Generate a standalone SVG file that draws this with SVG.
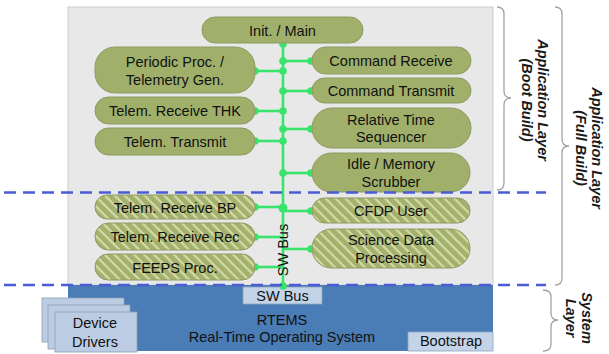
<svg xmlns="http://www.w3.org/2000/svg" width="609" height="354" viewBox="0 0 609 354">
  <defs>
    <pattern id="hatch" width="7" height="7" patternUnits="userSpaceOnUse" patternTransform="rotate(45)">
      <rect width="7" height="7" fill="#a2b16c"/>
      <rect width="7" height="2.2" fill="#d6d9a6"/>
    </pattern>
    <style>
      .txt { font-family: "Liberation Sans", Arial, sans-serif; font-size: 14.5px; fill: #111111; text-anchor: middle; }
      .lbl { font-family: "Liberation Sans", Arial, sans-serif; font-size: 14.5px; font-weight: bold; font-style: italic; fill: #1a1a1a; text-anchor: middle; }
      .node { fill: #a0b06a; stroke: #8d9a63; stroke-width: 1; }
      .hatched { fill: url(#hatch); stroke: #8d9a63; stroke-width: 1; }
      .bus { stroke: #3ae36c; stroke-width: 2.6; fill: none; }
      .dot { fill: #3ae36c; }
      .lightbox { fill: #c3d4e9; stroke: #8fa3bd; stroke-width: 0.8; }
      .card { fill: #bccde3; stroke: #8e9fb6; stroke-width: 0.8; }
      .brace { fill: none; stroke: #a3a3a3; stroke-width: 1.3; }
      .dash { stroke: #4a5bd6; stroke-width: 2.5; stroke-dasharray: 12 7; }
    </style>
  </defs>

  <rect width="609" height="354" fill="#ffffff"/>

  <!-- application layer area -->
  <rect id="app-area" x="68" y="7" width="425" height="278" fill="#e8e8e9" stroke="#cdcdcd" stroke-width="1"/>

  <!-- system layer area -->
  <g id="system-layer">
    <rect x="68" y="285" width="425" height="66" fill="#4a7cb5"/>
    <text class="txt" x="282" y="325" fill="#131c2a">RTEMS</text>
    <text class="txt" x="282" y="342" fill="#131c2a">Real-Time Operating System</text>
  </g>

  <g id="sw-bus-box">
    <rect class="lightbox" x="243" y="287" width="79" height="17"/>
    <text class="txt" x="282.5" y="301">SW Bus</text>
  </g>

  <g id="bootstrap">
    <rect class="lightbox" x="408" y="332" width="85" height="19"/>
    <text class="txt" x="451" y="346">Bootstrap</text>
  </g>

  <g id="device-drivers">
    <rect class="card" x="42" y="298" width="82" height="44"/>
    <rect class="card" x="48" y="305" width="82" height="44"/>
    <rect class="card" x="55" y="312" width="82" height="40"/>
    <text class="txt" x="95" y="328">Device</text>
    <text class="txt" x="95" y="347">Drivers</text>
  </g>

  <!-- software bus and its branches -->
  <g id="connectors">
    <line class="bus" x1="283" y1="43" x2="283" y2="287"/>
    <!-- left branches -->
    <line class="bus" x1="255" y1="71" x2="283" y2="71"/>
    <line class="bus" x1="255" y1="111" x2="283" y2="111"/>
    <line class="bus" x1="255" y1="141" x2="283" y2="141"/>
    <line class="bus" x1="255" y1="207" x2="283" y2="207"/>
    <line class="bus" x1="255" y1="237" x2="283" y2="237"/>
    <line class="bus" x1="255" y1="267" x2="283" y2="267"/>
    <!-- right branches -->
    <line class="bus" x1="283" y1="61" x2="311" y2="61"/>
    <line class="bus" x1="283" y1="91" x2="311" y2="91"/>
    <line class="bus" x1="283" y1="129" x2="311" y2="129"/>
    <line class="bus" x1="283" y1="173" x2="311" y2="173"/>
    <line class="bus" x1="283" y1="211" x2="311" y2="211"/>
    <line class="bus" x1="283" y1="249" x2="311" y2="249"/>
    <!-- junction dots -->
    <circle class="dot" cx="283" cy="44" r="3.8"/>
    <circle class="dot" cx="283" cy="61" r="3.8"/>
    <circle class="dot" cx="311" cy="61" r="3.8"/>
    <circle class="dot" cx="283" cy="71" r="3.8"/>
    <circle class="dot" cx="255" cy="71" r="3.8"/>
    <circle class="dot" cx="283" cy="91" r="3.8"/>
    <circle class="dot" cx="311" cy="91" r="3.8"/>
    <circle class="dot" cx="283" cy="111" r="3.8"/>
    <circle class="dot" cx="255" cy="111" r="3.8"/>
    <circle class="dot" cx="283" cy="129" r="3.8"/>
    <circle class="dot" cx="311" cy="129" r="3.8"/>
    <circle class="dot" cx="283" cy="141" r="3.8"/>
    <circle class="dot" cx="255" cy="141" r="3.8"/>
    <circle class="dot" cx="283" cy="173" r="3.8"/>
    <circle class="dot" cx="311" cy="173" r="3.8"/>
    <circle class="dot" cx="283" cy="208" r="4.5"/>
    <circle class="dot" cx="255" cy="207" r="3.8"/>
    <circle class="dot" cx="311" cy="211" r="3.8"/>
    <circle class="dot" cx="255" cy="237" r="3.8"/>
    <circle class="dot" cx="311" cy="249" r="3.8"/>
    <circle class="dot" cx="255" cy="267" r="3.8"/>
    <circle class="dot" cx="283" cy="286" r="3.8"/>
    <text class="txt" transform="translate(288 250) rotate(-90)" x="0" y="0" font-size="15">SW Bus</text>
  </g>

  <!-- application tasks -->
  <g id="init-main">
    <rect class="node" x="202" y="17" width="161" height="26" rx="13"/>
    <text class="txt" x="282.5" y="35.5">Init. / Main</text>
  </g>
  <g id="periodic-proc">
    <rect class="node" x="95" y="47" width="160" height="46" rx="20"/>
    <text class="txt" x="175" y="66.5">Periodic Proc. /</text>
    <text class="txt" x="175" y="84.5">Telemetry Gen.</text>
  </g>
  <g id="telem-receive-thk">
    <rect class="node" x="95" y="97" width="160" height="27" rx="13.5"/>
    <text class="txt" x="175" y="116">Telem. Receive THK</text>
  </g>
  <g id="telem-transmit">
    <rect class="node" x="95" y="128" width="160" height="27" rx="13.5"/>
    <text class="txt" x="175" y="147">Telem. Transmit</text>
  </g>
  <g id="telem-receive-bp">
    <rect class="hatched" x="95" y="195" width="160" height="24" rx="12"/>
    <text class="txt" x="175" y="212.5">Telem. Receive BP</text>
  </g>
  <g id="telem-receive-rec">
    <rect class="hatched" x="95" y="223" width="160" height="27" rx="13.5"/>
    <text class="txt" x="175" y="242">Telem. Receive Rec</text>
  </g>
  <g id="feeps-proc">
    <rect class="hatched" x="95" y="254" width="160" height="26" rx="13"/>
    <text class="txt" x="175" y="272.5">FEEPS Proc.</text>
  </g>

  <g id="command-receive">
    <rect class="node" x="312" y="47" width="159" height="27" rx="13.5"/>
    <text class="txt" x="391" y="66">Command Receive</text>
  </g>
  <g id="command-transmit">
    <rect class="node" x="312" y="78" width="159" height="25" rx="12.5"/>
    <text class="txt" x="391" y="96">Command Transmit</text>
  </g>
  <g id="relative-time-sequencer">
    <rect class="node" x="312" y="108" width="159" height="40" rx="20"/>
    <text class="txt" x="391" y="124.5">Relative Time</text>
    <text class="txt" x="391" y="142">Sequencer</text>
  </g>
  <g id="idle-memory-scrubber">
    <rect class="node" x="312" y="153" width="158" height="39" rx="19.5"/>
    <text class="txt" x="391" y="169">Idle / Memory</text>
    <text class="txt" x="391" y="186.5">Scrubber</text>
  </g>
  <g id="cfdp-user">
    <rect class="hatched" x="312" y="198" width="158" height="25" rx="12.5"/>
    <text class="txt" x="391" y="216">CFDP User</text>
  </g>
  <g id="science-data-processing">
    <rect class="hatched" x="312" y="229" width="158" height="39" rx="19.5"/>
    <text class="txt" x="391" y="245">Science Data</text>
    <text class="txt" x="391" y="262.5">Processing</text>
  </g>

  <!-- build boundaries -->
  <line class="dash" x1="4" y1="192.5" x2="546" y2="192.5"/>
  <line class="dash" x1="4" y1="285" x2="546" y2="285"/>

  <!-- layer braces -->
  <g id="boot-build">
    <path class="brace" d="M497 7 Q504 7 504 14 L504 91 Q504 98 511 98 Q504 98 504 105 L504 183 Q504 190 497 190"/>
    <text class="lbl" transform="translate(538 100) rotate(90)">Application Layer</text>
    <text class="lbl" transform="translate(522 100) rotate(90)">(Boot Build)</text>
  </g>
  <g id="full-build">
    <path class="brace" d="M555 7 Q562 7 562 14 L562 139 Q562 146 569 146 Q562 146 562 153 L562 278 Q562 285 555 285"/>
    <text class="lbl" transform="translate(592 148) rotate(90)">Application Layer</text>
    <text class="lbl" transform="translate(576 148) rotate(90)">(Full Build)</text>
  </g>
  <g id="system-layer-label">
    <path class="brace" d="M543 290 Q551 290 551 297 L551 313 Q551 320 558 320 Q551 320 551 327 L551 344 Q551 351 543 351"/>
    <text class="lbl" transform="translate(582 318) rotate(90)">System</text>
    <text class="lbl" transform="translate(566 318) rotate(90)">Layer</text>
  </g>
</svg>
